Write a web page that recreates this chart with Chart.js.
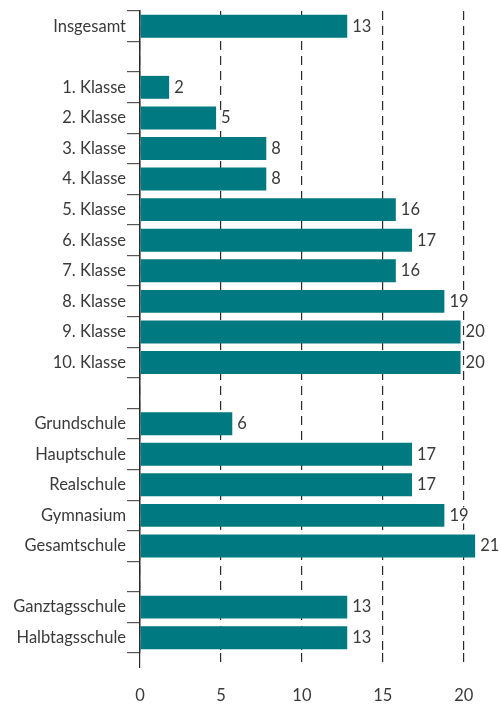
<!DOCTYPE html>
<html>
<head>
<meta charset="utf-8">
<script src="https://cdn.jsdelivr.net/npm/chart.js@4"></script>
<style>
  html, body { margin: 0; padding: 0; background: #ffffff; }
  #wrap { width: 502px; height: 704px; position: relative; }
</style>
</head>
<body>
<div id="wrap"><canvas id="c" width="502" height="704"></canvas></div>
<script>
// Categories (empty strings are spacer rows)
const categories = [
  'Insgesamt', '',
  '1. Klasse', '2. Klasse', '3. Klasse', '4. Klasse', '5. Klasse',
  '6. Klasse', '7. Klasse', '8. Klasse', '9. Klasse', '10. Klasse', '',
  'Grundschule', 'Hauptschule', 'Realschule', 'Gymnasium', 'Gesamtschule', '',
  'Ganztagsschule', 'Halbtagsschule'
];
// Bar lengths (null = spacer row)
const values = [
  12.8, null,
  1.8, 4.7, 7.8, 7.8, 15.8, 16.8, 15.8, 18.8, 19.8, 19.8, null,
  5.7, 16.8, 16.8, 18.8, 20.7, null,
  12.8, 12.8
];
// Printed value labels
const valueLabels = [
  '13', '',
  '2', '5', '8', '8', '16', '17', '16', '19', '20', '20', '',
  '6', '17', '17', '19', '21', '',
  '13', '13'
];
const xTicks = [0, 5, 10, 15, 20];

const FONT = 'Lato, "Open Sans", sans-serif';
const FSIZE = 16.5;
const TEXT = '#3a3a3a';
const BAR = '#007a80';

const valueLabelPlugin = {
  id: 'valueLabels',
  afterDatasetsDraw(chart) {
    const ctx = chart.ctx;
    const meta = chart.getDatasetMeta(0);
    ctx.save();
    ctx.font = FSIZE + 'px ' + FONT;
    ctx.textAlign = 'left';
    ctx.textBaseline = 'middle';
    meta.data.forEach((bar, i) => {
      if (values[i] == null) return;
      const w = ctx.measureText(valueLabels[i]).width;
      ctx.fillStyle = '#ffffff';
      ctx.fillRect(bar.x + 4, bar.y - 8, w + 2, 16);
      ctx.fillStyle = TEXT;
      ctx.fillText(valueLabels[i], bar.x + 5, bar.y);
    });
    ctx.restore();
  }
};

new Chart(document.getElementById('c'), {
  type: 'bar',
  data: {
    labels: categories,
    datasets: [{
      data: values,
      backgroundColor: BAR,
      borderWidth: 0,
      categoryPercentage: 1,
      barPercentage: 0.75
    }]
  },
  options: {
    indexAxis: 'y',
    responsive: false,
    animation: false,
    events: [],
    layout: { padding: { top: 10, right: 22, left: 0, bottom: 0 } },
    plugins: { legend: { display: false }, tooltip: { enabled: false } },
    scales: {
      x: {
        type: 'linear',
        min: 0,
        max: 21,
        afterBuildTicks(scale) { scale.ticks = xTicks.map(v => ({ value: v })); },
        afterFit(scale) { scale.height = 51; },
        border: { display: false, dash: [9, 6] },
        grid: {
          drawOnChartArea: true,
          color: '#2a2a2a',
          lineWidth: 1.2,
          tickLength: 15,
          tickColor: '#2a2a2a',
          tickWidth: 1.2,
          tickBorderDash: (c) => (c.tick && c.tick.value === 0 ? [] : [9, 6])
        },
        ticks: {
          color: TEXT,
          font: { family: FONT, size: FSIZE },
          padding: 18
        }
      },
      y: {
        type: 'category',
        afterFit(scale) { scale.width = 140; },
        border: { display: true, color: '#2a2a2a', width: 1.5 },
        grid: {
          offset: true,
          drawOnChartArea: false,
          drawTicks: true,
          tickLength: 13,
          color: '#555555',
          tickColor: '#555555',
          lineWidth: 1.2
        },
        ticks: {
          color: TEXT,
          font: { family: FONT, size: FSIZE },
          padding: 1,
          autoSkip: false
        }
      }
    }
  },
  plugins: [valueLabelPlugin]
});
</script>
</body>
</html>
